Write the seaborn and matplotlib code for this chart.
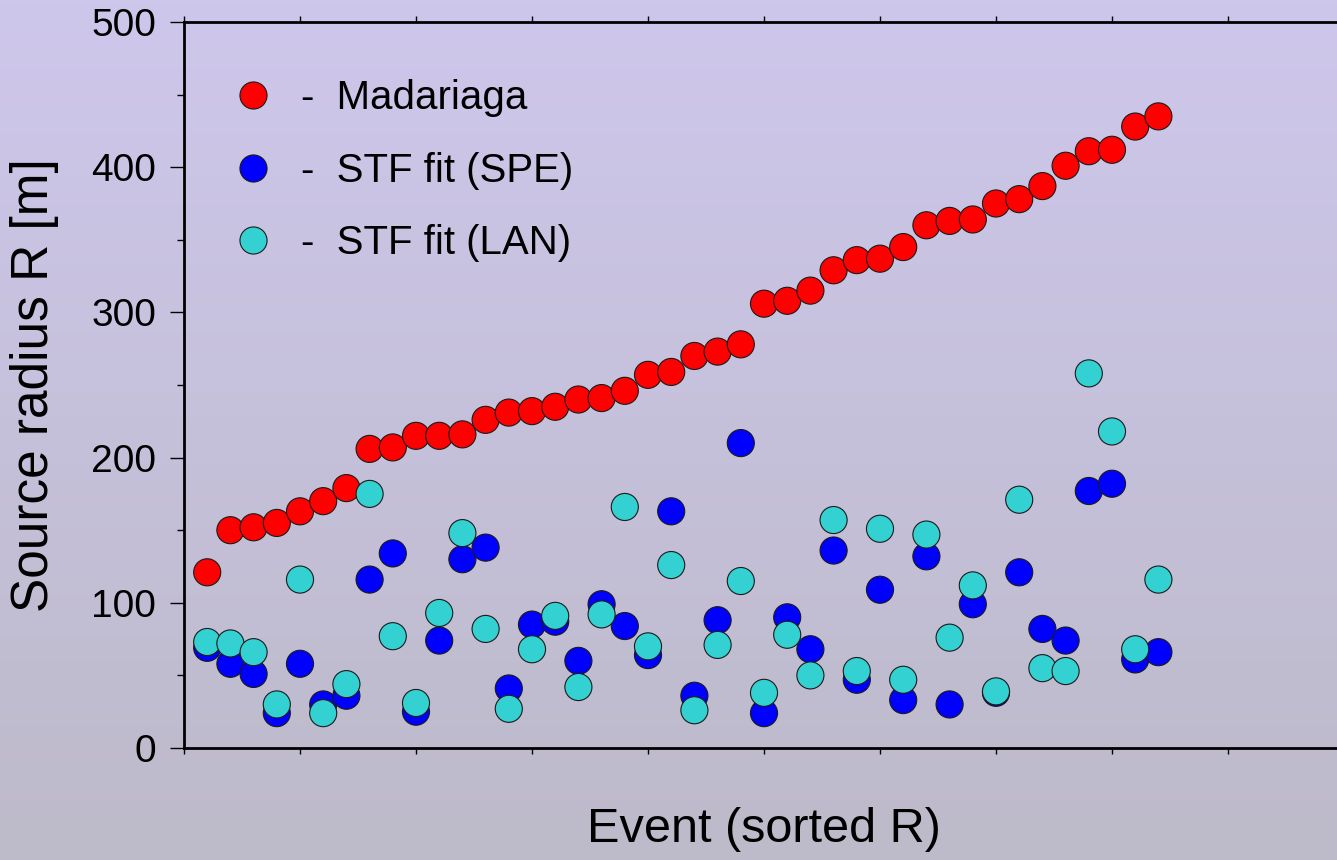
import numpy as np
import pandas as pd
import matplotlib
matplotlib.use("Agg")
import matplotlib.pyplot as plt
from matplotlib.lines import Line2D
from matplotlib.ticker import MultipleLocator, NullFormatter
import seaborn as sns

# Source radii per event, events sorted by Madariaga radius
madariaga = [121, 150, 152, 155, 163, 170, 179, 206, 207, 215, 215, 216, 226, 231,
             232, 235, 240, 241, 246, 257, 259, 270, 273, 278, 306, 308, 315, 329,
             336, 337, 345, 360, 363, 364, 375, 378, 387, 401, 411, 412, 428, 435]
stf_spe = [69, 58, 51, 24, 58, 30, 36, 116, 134, 25, 74, 130, 138, 41,
           85, 87, 60, 99, 84, 64, 163, 36, 88, 210, 24, 90, 68, 136,
           47, 109, 33, 132, 30, 99, 38, 121, 82, 74, 177, 182, 61, 66]
stf_lan = [73, 72, 66, 30, 116, 24, 44, 175, 77, 31, 93, 148, 82, 27,
           68, 91, 42, 92, 166, 70, 126, 26, 71, 115, 38, 78, 50, 157,
           53, 151, 47, 147, 76, 112, 39, 171, 55, 53, 258, 218, 68, 116]

series_names = ["Madariaga", "STF fit (SPE)", "STF fit (LAN)"]
series_colors = ["#FF0000", "#0000FF", "#33D1D1"]

events = np.arange(1, len(madariaga) + 1)
df = pd.concat([
    pd.DataFrame({"event": events, "R": vals, "method": name})
    for name, vals in zip(series_names, [madariaga, stf_spe, stf_lan])
], ignore_index=True)

sns.set_style("ticks")
plt.rcParams["font.family"] = ["Liberation Sans", "DejaVu Sans"]
plt.rcParams["text.color"] = "black"
plt.rcParams["axes.labelcolor"] = "black"
plt.rcParams["xtick.color"] = "black"
plt.rcParams["ytick.color"] = "black"

W, H = 1337, 860
fig = plt.figure(figsize=(W / 100, H / 100), dpi=100)

# vertical lavender-to-grey backdrop
bg = fig.add_axes([0, 0, 1, 1], zorder=-10)
top_c = np.array([206, 199, 236]) / 255
bot_c = np.array([189, 186, 201]) / 255
t = np.linspace(0, 1, 256)[:, None]
grad = top_c[None, :] * (1 - t) + bot_c[None, :] * t
bg.imshow(grad[:, None, :], aspect="auto", extent=[0, 1, 0, 1])
bg.set_axis_off()
fig.patch.set_facecolor(bot_c)

left, right, bottom, top = 184, 1344, 748, 22
ax = fig.add_axes([left / W, (H - bottom) / H, (right - left) / W, (bottom - top) / H])
ax.set_facecolor("none")

palette = dict(zip(series_names, series_colors))
sns.scatterplot(data=df, x="event", y="R", hue="method", palette=palette,
                s=380, edgecolor="#1a1a1a", linewidth=0.8, ax=ax, legend=False,
                zorder=3)

ax.set_xlim(0, 50)
ax.set_ylim(0, 500)
ax.xaxis.set_major_locator(MultipleLocator(5))
ax.xaxis.set_major_formatter(NullFormatter())
ax.yaxis.set_major_locator(MultipleLocator(100))
ax.yaxis.set_minor_locator(MultipleLocator(50))

for side in ["left", "bottom", "top"]:
    ax.spines[side].set_visible(True)
    ax.spines[side].set_linewidth(2.0)
    ax.spines[side].set_color("black")
ax.spines["right"].set_visible(False)

ax.tick_params(axis="y", which="major", direction="out", length=10, width=1.0,
               color="black", labelcolor="black", labelsize=28, pad=10,
               left=True, right=False)
ax.tick_params(axis="y", which="minor", direction="out", length=5, width=1.0,
               color="black", left=True, right=False)
ax.tick_params(axis="x", which="major", direction="out", length=4, width=1.0,
               color="black", bottom=True, top=True, labelbottom=False, labeltop=False)

ax.set_xlabel("Event (sorted R)", fontsize=35, color="black")
ax.set_ylabel("Source radius R [m]", fontsize=37, color="black")
ax.xaxis.set_label_coords(0.5, (H - 830 - (H - bottom)) / (bottom - top))
ax.xaxis.label.set_va("center")
ax.yaxis.set_label_coords((35 - left) / (right - left), 0.5)
ax.yaxis.label.set_va("center")

handles = [Line2D([], [], linestyle="none", marker="o", markersize=19.5,
                  markerfacecolor=c, markeredgecolor="#1a1a1a", markeredgewidth=0.8)
           for c in series_colors]
labels = ["-  " + n for n in series_names]
leg = ax.legend(handles, labels, loc="upper left",
                bbox_to_anchor=(239 / W, (H - 79) / H), bbox_transform=fig.transFigure,
                frameon=False, fontsize=29, handlelength=0.7, handletextpad=0.85,
                labelspacing=0.86, borderpad=0, borderaxespad=0)
for txt in leg.get_texts():
    txt.set_color("black")

fig.savefig("out.png", dpi=100)
